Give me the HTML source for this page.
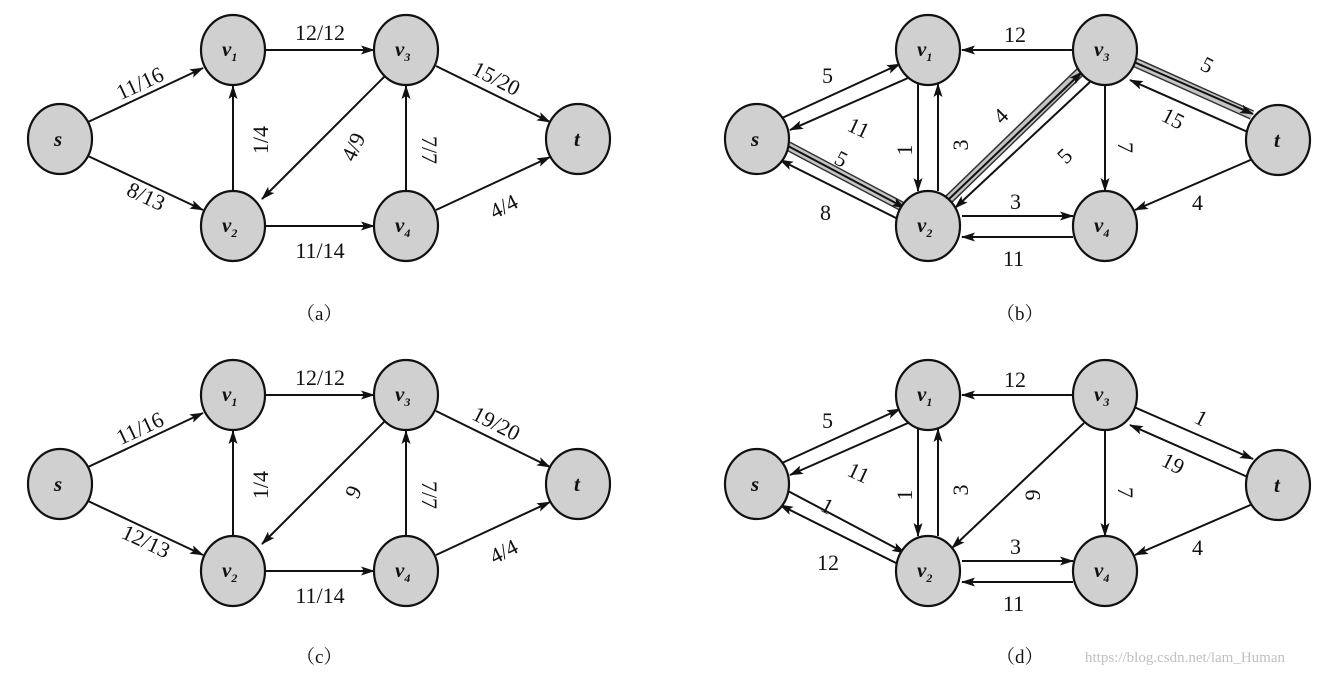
<!DOCTYPE html>
<html><head><meta charset="utf-8"><style>
html,body{margin:0;padding:0;background:#fff;}
svg{display:block;}
text{font-family:"Liberation Serif",serif;fill:#111;}
.n{fill:#d0d0d0;stroke:#111;stroke-width:2.2;}
.e{stroke:#111;stroke-width:2;fill:none;marker-end:url(#ah);}
.h1{stroke:#333;stroke-width:10;fill:none;}
.h2{stroke:#c4c4c4;stroke-width:7;fill:none;}
.l{font-size:22px;}
.v{font-size:21px;font-style:italic;font-weight:bold;}
.cap{font-size:19px;font-family:"Liberation Serif","Noto Serif CJK SC",serif;}
</style></head><body>
<svg width="1330" height="676" viewBox="0 0 1330 676" xmlns="http://www.w3.org/2000/svg">
<defs>
<marker id="ah" viewBox="0 0 14 9" refX="13" refY="4.5" markerWidth="14" markerHeight="9" markerUnits="userSpaceOnUse" orient="auto"><path d="M0,0 L14,4.5 L0,9 L3,4.5 z" fill="#111"/></marker>
</defs>

<!-- Panel A -->
<g>
<line class="e" x1="88" y1="122" x2="203" y2="68"/>
<line class="e" x1="88" y1="156" x2="203" y2="210"/>
<line class="e" x1="265" y1="50" x2="374" y2="50"/>
<line class="e" x1="233" y1="191" x2="233" y2="86"/>
<line class="e" x1="385" y1="76" x2="262" y2="199"/>
<line class="e" x1="406" y1="191" x2="406" y2="86"/>
<line class="e" x1="265" y1="226" x2="374" y2="226"/>
<line class="e" x1="436" y1="66" x2="550" y2="122"/>
<line class="e" x1="436" y1="210" x2="550" y2="157"/>
<ellipse class="n" cx="60" cy="139" rx="32" ry="35"/>
<ellipse class="n" cx="233" cy="50" rx="32" ry="35"/>
<ellipse class="n" cx="406" cy="50" rx="32" ry="35"/>
<ellipse class="n" cx="578" cy="139" rx="32" ry="35"/>
<ellipse class="n" cx="233" cy="226" rx="32" ry="35"/>
<ellipse class="n" cx="406" cy="226" rx="32" ry="35"/>
<text class="v" x="54" y="146">s</text>
<text class="v" x="574" y="146">t</text>
<text class="v" x="222" y="56">v<tspan font-size="12" dy="5">1</tspan></text>
<text class="v" x="395" y="56">v<tspan font-size="12" dy="5">3</tspan></text>
<text class="v" x="222" y="232">v<tspan font-size="12" dy="5">2</tspan></text>
<text class="v" x="395" y="232">v<tspan font-size="12" dy="5">4</tspan></text>
<text class="l" text-anchor="middle" transform="translate(143,90) rotate(-25)">11/16</text>
<text class="l" text-anchor="middle" transform="translate(143,203) rotate(25)">8/13</text>
<text class="l" text-anchor="middle" x="320" y="40">12/12</text>
<text class="l" text-anchor="middle" transform="translate(268,140) rotate(-90)">1/4</text>
<text class="l" text-anchor="middle" transform="translate(360,150) rotate(-65)">4/9</text>
<text class="l" text-anchor="middle" transform="translate(422,150) rotate(90)">7/7</text>
<text class="l" text-anchor="middle" x="320" y="258">11/14</text>
<text class="l" text-anchor="middle" transform="translate(493,85) rotate(27)">15/20</text>
<text class="l" text-anchor="middle" transform="translate(507,213) rotate(-27)">4/4</text>
<text class="cap" x="296" y="320">（a）</text>
</g>

<!-- Panel C -->
<g transform="translate(0,345)">
<line class="e" x1="88" y1="122" x2="203" y2="68"/>
<line class="e" x1="88" y1="156" x2="203" y2="210"/>
<line class="e" x1="265" y1="50" x2="374" y2="50"/>
<line class="e" x1="233" y1="191" x2="233" y2="86"/>
<line class="e" x1="385" y1="76" x2="262" y2="199"/>
<line class="e" x1="406" y1="191" x2="406" y2="86"/>
<line class="e" x1="265" y1="226" x2="374" y2="226"/>
<line class="e" x1="436" y1="66" x2="550" y2="122"/>
<line class="e" x1="436" y1="210" x2="550" y2="157"/>
<ellipse class="n" cx="60" cy="139" rx="32" ry="35"/>
<ellipse class="n" cx="233" cy="50" rx="32" ry="35"/>
<ellipse class="n" cx="406" cy="50" rx="32" ry="35"/>
<ellipse class="n" cx="578" cy="139" rx="32" ry="35"/>
<ellipse class="n" cx="233" cy="226" rx="32" ry="35"/>
<ellipse class="n" cx="406" cy="226" rx="32" ry="35"/>
<text class="v" x="54" y="146">s</text>
<text class="v" x="574" y="146">t</text>
<text class="v" x="222" y="56">v<tspan font-size="12" dy="5">1</tspan></text>
<text class="v" x="395" y="56">v<tspan font-size="12" dy="5">3</tspan></text>
<text class="v" x="222" y="232">v<tspan font-size="12" dy="5">2</tspan></text>
<text class="v" x="395" y="232">v<tspan font-size="12" dy="5">4</tspan></text>
<text class="l" text-anchor="middle" transform="translate(143,90) rotate(-25)">11/16</text>
<text class="l" text-anchor="middle" transform="translate(143,203) rotate(25)">12/13</text>
<text class="l" text-anchor="middle" x="320" y="40">12/12</text>
<text class="l" text-anchor="middle" transform="translate(268,140) rotate(-90)">1/4</text>
<text class="l" text-anchor="middle" transform="translate(360,150) rotate(-65)">9</text>
<text class="l" text-anchor="middle" transform="translate(422,150) rotate(90)">7/7</text>
<text class="l" text-anchor="middle" x="320" y="258">11/14</text>
<text class="l" text-anchor="middle" transform="translate(493,85) rotate(27)">19/20</text>
<text class="l" text-anchor="middle" transform="translate(507,213) rotate(-27)">4/4</text>
<text class="cap" x="296" y="318">（c）</text>
</g>

<!-- Panel B -->
<g>
<line class="h1" x1="788" y1="146" x2="903" y2="207"/><line class="h2" x1="788" y1="146" x2="903" y2="207"/>
<line class="h1" x1="948" y1="200" x2="1080" y2="72"/><line class="h2" x1="948" y1="200" x2="1080" y2="72"/>
<line class="h1" x1="1134" y1="62" x2="1252" y2="115"/><line class="h2" x1="1134" y1="62" x2="1252" y2="115"/>
<line class="e" x1="782" y1="118" x2="900" y2="64"/>
<line class="e" x1="908" y1="78" x2="790" y2="130"/>
<line class="e" x1="918" y1="84" x2="918" y2="191"/>
<line class="e" x1="938" y1="191" x2="938" y2="84"/>
<line class="e" x1="1073" y1="50" x2="962" y2="50"/>
<line class="e" x1="948" y1="200" x2="1082" y2="72"/>
<line class="e" x1="1090" y1="82" x2="955" y2="208"/>
<line class="e" x1="788" y1="146" x2="905" y2="208"/>
<line class="e" x1="900" y1="220" x2="780" y2="160"/>
<line class="e" x1="1105" y1="85" x2="1105" y2="191"/>
<line class="e" x1="962" y1="216" x2="1073" y2="216"/>
<line class="e" x1="1073" y1="237" x2="962" y2="237"/>
<line class="e" x1="1134" y1="62" x2="1253" y2="114"/>
<line class="e" x1="1250" y1="133" x2="1130" y2="80"/>
<line class="e" x1="1255" y1="158" x2="1135" y2="210"/>
<ellipse class="n" cx="757" cy="139" rx="32" ry="35"/>
<ellipse class="n" cx="928" cy="50" rx="32" ry="35"/>
<ellipse class="n" cx="1105" cy="50" rx="32" ry="35"/>
<ellipse class="n" cx="1278" cy="140" rx="32" ry="35"/>
<ellipse class="n" cx="928" cy="226" rx="32" ry="35"/>
<ellipse class="n" cx="1105" cy="226" rx="32" ry="35"/>
<text class="v" x="751" y="146">s</text>
<text class="v" x="1274" y="147">t</text>
<text class="v" x="917" y="56">v<tspan font-size="12" dy="5">1</tspan></text>
<text class="v" x="1094" y="56">v<tspan font-size="12" dy="5">3</tspan></text>
<text class="v" x="917" y="232">v<tspan font-size="12" dy="5">2</tspan></text>
<text class="v" x="1094" y="232">v<tspan font-size="12" dy="5">4</tspan></text>
<text class="l" x="822" y="83">5</text>
<text class="l" transform="translate(846,130) rotate(25)">11</text>
<text class="l" transform="translate(912,150) rotate(-90)" text-anchor="middle">1</text>
<text class="l" transform="translate(968,145) rotate(-90)" text-anchor="middle">3</text>
<text class="l" x="1004" y="42">12</text>
<text class="l" transform="translate(1002,125) rotate(-45)">4</text>
<text class="l" transform="translate(1066,165) rotate(-45)">5</text>
<text class="l" transform="translate(833,163) rotate(27)">5</text>
<text class="l" x="820" y="220">8</text>
<text class="l" transform="translate(1118,142) rotate(90)">7</text>
<text class="l" x="1010" y="209">3</text>
<text class="l" x="1003" y="266">11</text>
<text class="l" transform="translate(1199,69) rotate(27)">5</text>
<text class="l" transform="translate(1160,120) rotate(27)">15</text>
<text class="l" x="1192" y="210">4</text>
<text class="cap" x="996" y="320">（b）</text>
</g>

<!-- Panel D -->
<g transform="translate(0,345)">
<line class="e" x1="782" y1="118" x2="900" y2="64"/>
<line class="e" x1="908" y1="78" x2="790" y2="130"/>
<line class="e" x1="918" y1="84" x2="918" y2="191"/>
<line class="e" x1="938" y1="191" x2="938" y2="84"/>
<line class="e" x1="1073" y1="50" x2="962" y2="50"/>
<line class="e" x1="1084" y1="78" x2="952" y2="203"/>
<line class="e" x1="788" y1="146" x2="905" y2="208"/>
<line class="e" x1="900" y1="220" x2="780" y2="160"/>
<line class="e" x1="1105" y1="85" x2="1105" y2="191"/>
<line class="e" x1="962" y1="216" x2="1073" y2="216"/>
<line class="e" x1="1073" y1="237" x2="962" y2="237"/>
<line class="e" x1="1134" y1="62" x2="1253" y2="114"/>
<line class="e" x1="1250" y1="133" x2="1130" y2="80"/>
<line class="e" x1="1255" y1="158" x2="1135" y2="210"/>
<ellipse class="n" cx="757" cy="139" rx="32" ry="35"/>
<ellipse class="n" cx="928" cy="50" rx="32" ry="35"/>
<ellipse class="n" cx="1105" cy="50" rx="32" ry="35"/>
<ellipse class="n" cx="1278" cy="140" rx="32" ry="35"/>
<ellipse class="n" cx="928" cy="226" rx="32" ry="35"/>
<ellipse class="n" cx="1105" cy="226" rx="32" ry="35"/>
<text class="v" x="751" y="146">s</text>
<text class="v" x="1274" y="147">t</text>
<text class="v" x="917" y="56">v<tspan font-size="12" dy="5">1</tspan></text>
<text class="v" x="1094" y="56">v<tspan font-size="12" dy="5">3</tspan></text>
<text class="v" x="917" y="232">v<tspan font-size="12" dy="5">2</tspan></text>
<text class="v" x="1094" y="232">v<tspan font-size="12" dy="5">4</tspan></text>
<text class="l" x="822" y="83">5</text>
<text class="l" transform="translate(846,130) rotate(25)">11</text>
<text class="l" transform="translate(912,150) rotate(-90)" text-anchor="middle">1</text>
<text class="l" transform="translate(968,145) rotate(-90)" text-anchor="middle">3</text>
<text class="l" x="1004" y="42">12</text>
<text class="l" transform="translate(1040,150) rotate(-90)" text-anchor="middle">9</text>
<text class="l" transform="translate(819,165) rotate(27)">1</text>
<text class="l" x="817" y="225">12</text>
<text class="l" transform="translate(1118,142) rotate(90)">7</text>
<text class="l" x="1010" y="209">3</text>
<text class="l" x="1003" y="266">11</text>
<text class="l" transform="translate(1193,77) rotate(27)">1</text>
<text class="l" transform="translate(1160,120) rotate(27)">19</text>
<text class="l" x="1192" y="210">4</text>
<text class="cap" x="996" y="318">（d）</text>
</g>

<text x="1085" y="662" font-family="Liberation Sans, sans-serif" font-size="15" style="fill:#c0c0c0">https://blog.csdn.net/lam_Human</text>
</svg>
</body></html>
